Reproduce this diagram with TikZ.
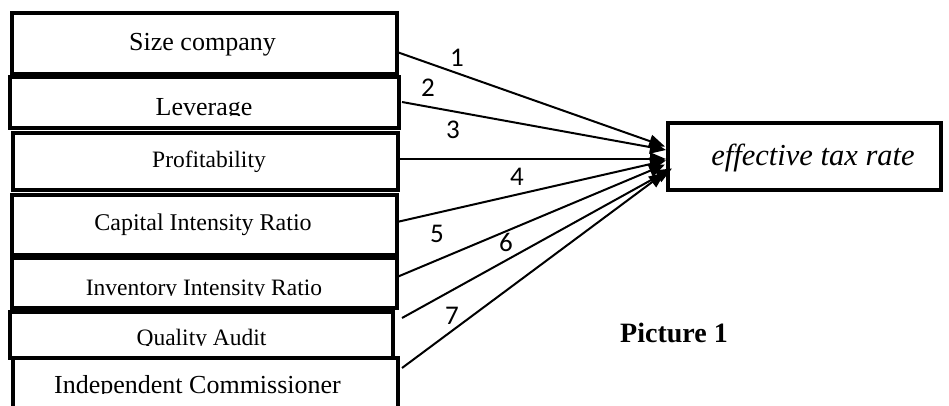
\documentclass[tikz,border=0pt]{standalone}
\usepackage{fontspec}
\setmainfont{Liberation Serif}
\newfontfamily\labelfont{Carlito}
\usetikzlibrary{arrows.meta}
\tikzset{
  varbox/.style={draw=black, line width=4.5pt, inner sep=0pt, outer sep=0pt, fill=none},
  tgtbox/.style={draw=black, line width=3.5pt, inner sep=0pt, outer sep=0pt},
  boxtext/.style={anchor=base, inner sep=0pt},
  conn/.style={line width=2pt, -{Triangle[length=16pt,width=13pt]}},
  numlabel/.style={font=\labelfont\fontsize{27}{27}\selectfont, inner sep=0pt},
}
\begin{document}
\begin{tikzpicture}[x=1pt,y=-1pt]
\useasboundingbox (0,0) rectangle (949,405);
% boxes
\node[varbox, minimum width=385pt, minimum height=61pt] (b1) at (204.5,43.5) {};
\node[varbox, minimum width=389pt, minimum height=51pt] (b2) at (204.5,102.5) {};
\node[varbox, minimum width=385pt, minimum height=57pt] (b3) at (205.5,161.5) {};
\node[varbox, minimum width=385pt, minimum height=60pt] (b4) at (204.5,225) {};
\node[varbox, minimum width=385pt, minimum height=50pt] (b5) at (204.5,283) {};
\node[varbox, minimum width=383pt, minimum height=46pt] (b6) at (201.5,335) {};
\node[varbox, minimum width=385pt, minimum height=52pt] (b7) at (205.5,384) {};
% texts
\node[boxtext, font=\fontsize{26}{26}\selectfont] (t1) at (202.5,50) {Size company};
\begin{scope}
\clip (10,77) rectangle (399,115.5);
\node[boxtext, font=\fontsize{26}{26}\selectfont] (t2) at (204,115) {Leverage};
\end{scope}
\node[boxtext, font=\fontsize{23.5}{23.5}\selectfont] (t3) at (209,167) {Profitability};
\node[boxtext, font=\fontsize{24}{24}\selectfont] (t4) at (203,230) {Capital Intensity Ratio};
\begin{scope}
\clip (10,258) rectangle (399,295.5);
\node[boxtext, font=\fontsize{23.5}{23.5}\selectfont] (t5) at (204,295) {Inventory Intensity Ratio};
\end{scope}
\begin{scope}
\clip (10,312) rectangle (399,345.5);
\node[boxtext, font=\fontsize{23.5}{23.5}\selectfont] (t6) at (201.5,345) {Quality Audit};
\end{scope}
\begin{scope}
\clip (10,358) rectangle (399,393.5);
\node[boxtext, font=\fontsize{26}{26}\selectfont] (t7) at (197.5,393) {Independent Commissioner};
\end{scope}
% target
\node[tgtbox, minimum width=273pt, minimum height=67pt] (tgt) at (804.5,156.5) {};
\node[boxtext, font=\fontsize{30.5}{30.5}\selectfont\itshape] (tt) at (813,165) {effective tax rate};
% connectors
\draw[conn] ([yshift=-8.5pt]b1.east) -- ([xshift=-3pt,yshift=10pt]tgt.west);
\draw[conn] ([xshift=3pt,yshift=0.5pt]b2.east) -- ([xshift=-2pt,yshift=6.5pt]tgt.west);
\draw[conn] ([yshift=2.5pt]b3.east) -- ([xshift=-2pt,yshift=-2.5pt]tgt.west);
\draw[conn] ([yshift=3pt]b4.east) -- ([xshift=-2pt,yshift=-4pt]tgt.west);
\draw[conn] ([yshift=6pt]b5.east) -- ([xshift=-3pt,yshift=-8pt]tgt.west);
\draw[conn] ([xshift=9pt,yshift=17pt]b6.east) -- ([xshift=4pt,yshift=-12pt]tgt.west);
\draw[conn] ([xshift=4pt,yshift=16pt]b7.east) -- ([xshift=-3pt,yshift=-16pt]tgt.west);
% labels
\node[numlabel] (n1) at (457,58) {1};
\node[numlabel] (n2) at (428,88) {2};
\node[numlabel] (n3) at (453,130) {3};
\node[numlabel] (n4) at (517,177) {4};
\node[numlabel] (n5) at (437,234) {5};
\node[numlabel] (n6) at (506,242) {6};
\node[numlabel] (n7) at (452,316) {7};
\node[font=\fontsize{28}{28}\selectfont\bfseries, inner sep=0pt] (cap) at (674,333) {Picture 1};
\end{tikzpicture}
\end{document}
